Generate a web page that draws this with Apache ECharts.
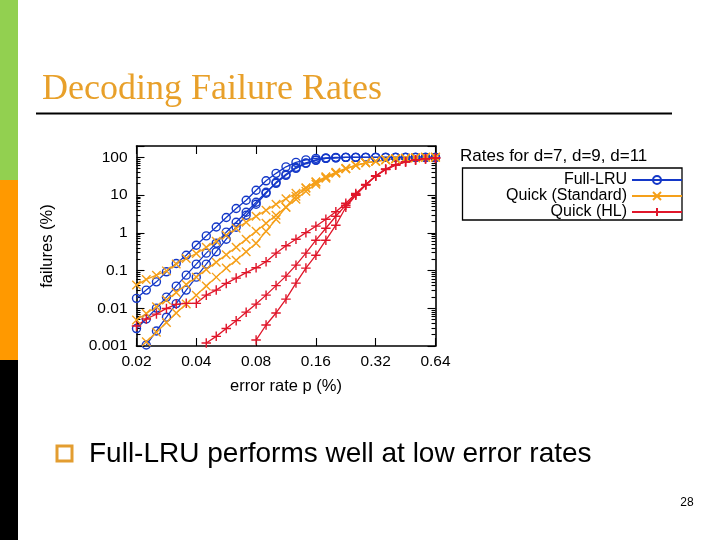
<!DOCTYPE html>
<html>
<head>
<meta charset="utf-8">
<script src="https://cdn.jsdelivr.net/npm/echarts@6/dist/echarts.min.js"></script>
<style>
html,body{margin:0;padding:0;background:#fff;}
#c{width:720px;height:540px;}
</style>
</head>
<body>
<div id="c"></div>
<script>
// ---- data (failure rate in %, vs error rate p in %) ----
const errorRate = [0.02, 0.0224, 0.0252, 0.0283, 0.0317, 0.0356, 0.04, 0.0449, 0.0504, 0.0566, 0.0635,
  0.0713, 0.08, 0.0898, 0.1008, 0.1131, 0.127, 0.1425, 0.16, 0.1796, 0.2016, 0.2263, 0.254, 0.2851,
  0.32, 0.3592, 0.4032, 0.4525, 0.508, 0.5702, 0.64];

const fullLRU_d7 = [0.0183, 0.0303, 0.0502, 0.0925, 0.154, 0.255, 0.47, 0.828, 1.43, 2.54, 4.4, 7.3, 13.4,
  23.9, 37.7, 56.1, 73.8, 85.9, 94.1, 97.0, 100, 100, 100, 100, 100, 100, 100, 100, 100, 100, 100];
const fullLRU_d9 = [0.0029, 0.0052, 0.0101, 0.0198, 0.0387, 0.0755, 0.148, 0.289, 0.531, 1.04, 1.91, 3.51,
  6.45, 11.9, 20.5, 33.4, 51.2, 69.4, 83.3, 94.1, 97.0, 100, 100, 100, 100, 100, 100, 100, 100, 100, 100];
const fullLRU_d11 = [null, 0.00106, 0.0025, 0.0058, 0.0133, 0.0303, 0.0669, 0.148, 0.316, 0.677, 1.41, 2.92,
  5.7, 11.2, 21.8, 35.5, 54.4, 71.5, 85.9, 94.1, 97.0, 100, 100, 100, 100, 100, 100, 100, 100, 100, 100];

const quickStd_d7 = [0.0411, 0.0582, 0.0755, 0.098, 0.148, 0.209, 0.283, 0.416, 0.6, 0.864, 1.32, 1.91, 2.75,
  3.96, 5.7, 8.0, 11.2, 15.6, 21.8, 29.6, 38.9, 49.6, 61.4, 71.5, 78.4, 85.9, 91.3, 94.1, 97.0, 100, 100];
const quickStd_d9 = [0.0049, 0.0073, 0.011, 0.0165, 0.026, 0.0424, 0.0669, 0.106, 0.167, 0.263, 0.416, 0.677,
  1.1, 1.79, 2.92, 4.75, 7.7, 12.6, 19.3, 27.8, 37.7, 49.6, 61.4, 71.5, 78.4, 85.9, 91.3, 94.1, 97.0, 100, 100];
const quickStd_d11 = [null, 0.0013, 0.0023, 0.0042, 0.0075, 0.0129, 0.0223, 0.0387, 0.0669, 0.116, 0.188, 0.316,
  0.531, 1.1, 2.29, 4.75, 9.3, 15.1, 22.5, 30.5, 40.1, 51.2, 61.4, 71.5, 78.4, 85.9, 91.3, 94.1, 97.0, 100, 100];

const quickHL_d7 = [0.0034, 0.0052, 0.007, 0.0099, 0.0127, 0.0135, 0.0135, 0.0223, 0.0303, 0.0456, 0.063, 0.088,
  0.119, 0.172, 0.289, 0.456, 0.677, 1.01, 1.5, 2.29, 3.62, 6.1, 11, 19, 32, 48, 63, 76, 85, 91, 95];
const quickHL_d9 = [null, null, null, null, null, null, null, 0.0012, 0.0018, 0.0029, 0.0047, 0.0079, 0.0129,
  0.0223, 0.0399, 0.0711, 0.139, 0.289, 0.637, 1.32, 2.75, 5.4, 10.2, 18.5, 31.5, 47.5, 62.5, 75.5, 85, 91.5, 96];
const quickHL_d11 = [null, null, null, null, null, null, null, null, null, null, null, null, 0.00144, 0.0036,
  0.0075, 0.0175, 0.0464, 0.116, 0.255, 0.637, 1.59, 4.75, 9.9, 18.8, 32.5, 49, 64, 77, 86, 92, 96.5];

const xRange = [0.02, 0.64];
const yRange = [0.001, 200];
const yTickLabels = ['0.001', '0.01', '0.1', '1', '10', '100'];
const legendNames = ['Full-LRU', 'Quick (Standard)', 'Quick (HL)'];

// ---- drawing ----
const FONT = '"Liberation Sans", Arial, Helvetica, sans-serif';
const BLUE = '#1438c8', ORANGE = '#f5a01a', RED = '#e0162a';
// The log2 axis works in hundredths of a percent so that its ticks land on 0.02 * 2^n.
const X_SCALE = 100;
const toPoints = ys => errorRate.map((p, i) => [p * X_SCALE, ys[i] == null ? null : ys[i]]);

const kinds = {
  'Full-LRU': { color: BLUE, symbol: 'circle', size: 8 },
  'Quick (Standard)': { color: ORANGE, symbol: 'path://M0,0L10,10M10,0L0,10', size: 8.5 },
  'Quick (HL)': { color: RED, symbol: 'path://M5,0L5,10M0,5L10,5', size: 9.5 }
};
const seriesDefs = [
  ['Full-LRU', fullLRU_d7], ['Full-LRU', fullLRU_d9], ['Full-LRU', fullLRU_d11],
  ['Quick (Standard)', quickStd_d7], ['Quick (Standard)', quickStd_d9], ['Quick (Standard)', quickStd_d11],
  ['Quick (HL)', quickHL_d7], ['Quick (HL)', quickHL_d9], ['Quick (HL)', quickHL_d11]
];
const series = seriesDefs.map(([name, ys]) => {
  const k = kinds[name];
  return {
    type: 'line', name, data: toPoints(ys),
    symbol: k.symbol, symbolSize: k.size, showAllSymbol: true,
    lineStyle: { color: k.color, width: 1.3 },
    itemStyle: { color: 'rgba(0,0,0,0)', borderColor: k.color, borderWidth: 1.4 },
    emphasis: { disabled: true }, clip: true, z: 3
  };
});

const axisLine = { show: true, lineStyle: { color: '#000', width: 1.6 } };
const tickStyle = { color: '#000', width: 1.1 };
const isPow10Label = v => {
  const s = String(v);
  return yTickLabels.indexOf(s) >= 0 ? s : '';
};

const legendTops = [172, 188, 204];
const legends = legendNames.map((name, i) => ({
  data: [name], orient: 'vertical', align: 'right', right: 37, top: legendTops[i],
  itemWidth: 50, itemHeight: 10, itemGap: 0, padding: 0, selectedMode: false,
  textStyle: { fontSize: 16, fontFamily: FONT, color: '#000', lineHeight: 14 }
}));

const option = {
  animation: false,
  backgroundColor: '#fff',
  grid: { left: 136.5, right: 284.5, top: 146, bottom: 194, containLabel: false },
  xAxis: [
    {
      type: 'log', logBase: 2, min: xRange[0] * X_SCALE, max: xRange[1] * X_SCALE, position: 'bottom',
      axisLine, axisTick: { show: true, inside: true, length: 8, lineStyle: tickStyle },
      axisLabel: { formatter: v => String(+(v / X_SCALE).toFixed(4)), fontSize: 15.5, fontFamily: FONT, color: '#000', margin: 8 },
      splitLine: { show: false },
      name: 'error rate p (%)', nameLocation: 'middle', nameGap: 32,
      nameTextStyle: { fontSize: 16.5, fontFamily: FONT, color: '#000' }
    },
    {
      type: 'log', logBase: 2, min: xRange[0] * X_SCALE, max: xRange[1] * X_SCALE, position: 'top',
      axisLine, axisTick: { show: true, inside: true, length: 8, lineStyle: tickStyle },
      axisLabel: { show: false }, splitLine: { show: false }
    }
  ],
  yAxis: [
    {
      type: 'log', logBase: 10, min: yRange[0], max: yRange[1], position: 'left',
      axisLine, axisTick: { show: true, inside: true, length: 8, lineStyle: tickStyle },
      minorTick: { show: true, splitNumber: 9, length: 4, lineStyle: tickStyle },
      axisLabel: { formatter: isPow10Label, fontSize: 15.5, fontFamily: FONT, color: '#000', margin: 9 },
      splitLine: { show: false }, minorSplitLine: { show: false },
      name: 'failures (%)', nameLocation: 'middle', nameGap: 81,
      nameTextStyle: { fontSize: 16.5, fontFamily: FONT, color: '#000' }
    },
    {
      type: 'log', logBase: 10, min: yRange[0], max: yRange[1], position: 'right',
      axisLine, axisTick: { show: true, inside: true, length: 8, lineStyle: tickStyle },
      minorTick: { show: true, splitNumber: 9, length: 4, lineStyle: tickStyle },
      axisLabel: { show: false }, splitLine: { show: false }, minorSplitLine: { show: false }
    }
  ],
  legend: legends,
  series,
  graphic: [
    { type: 'rect', shape: { x: 0, y: 0, width: 18, height: 180 }, style: { fill: '#92d050' } },
    { type: 'rect', shape: { x: 0, y: 180, width: 18, height: 180 }, style: { fill: '#ff9900' } },
    { type: 'rect', shape: { x: 0, y: 360, width: 18, height: 180 }, style: { fill: '#000' } },
    { type: 'text', style: { text: 'Decoding Failure Rates', x: 42, y: 90, fontSize: 36,
        fontFamily: '"Liberation Serif", "Times New Roman", serif', fill: '#e8a02a', align: 'left', verticalAlign: 'middle' } },
    { type: 'line', shape: { x1: 36, y1: 113.5, x2: 672, y2: 113.5 }, style: { stroke: '#000', lineWidth: 2 } },
    { type: 'text', style: { text: 'Rates for d=7, d=9, d=11', x: 460, y: 156, fontSize: 17, fontFamily: FONT,
        fill: '#000', align: 'left', verticalAlign: 'middle' } },
    { type: 'rect', shape: { x: 462.5, y: 168, width: 219.5, height: 52 }, style: { fill: 'none', stroke: '#000', lineWidth: 1.3 } },
    { type: 'rect', shape: { x: 57, y: 446, width: 15, height: 15 }, style: { fill: 'none', stroke: '#e39d30', lineWidth: 3 } },
    { type: 'text', style: { text: 'Full-LRU performs well at low error rates', x: 89, y: 454, fontSize: 28,
        fontFamily: FONT, fill: '#000', align: 'left', verticalAlign: 'middle' } },
    { type: 'text', style: { text: '28', x: 687, y: 503, fontSize: 12, fontFamily: FONT, fill: '#000',
        align: 'center', verticalAlign: 'middle' } }
  ]
};

const chart = echarts.init(document.getElementById('c'), null, { renderer: 'canvas' });
chart.setOption(option);
</script>
</body>
</html>
